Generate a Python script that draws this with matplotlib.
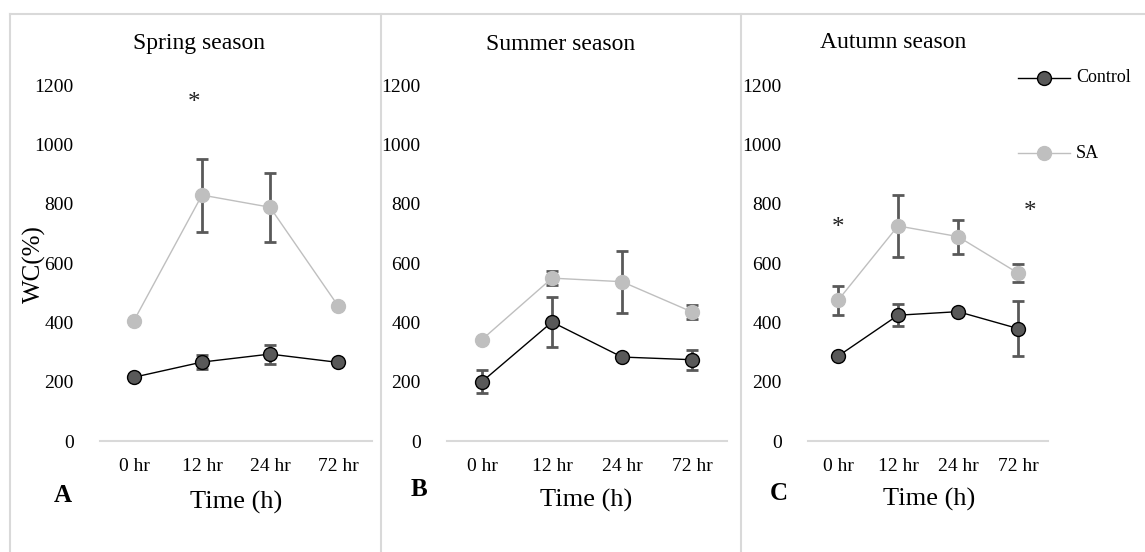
import matplotlib.pyplot as plt
from matplotlib.lines import Line2D

plt.rcParams['font.family'] = ['Liberation Serif', 'DejaVu Serif']

# data
times = ['0 hr', '12 hr', '24 hr', '72 hr']
titles = ['Spring season', 'Summer season', 'Autumn season']
letters = ['A', 'B', 'C']

ctrl_spring = [215, 266, 293, 265]
ctrl_spring_err = [5, 24, 32, 6]
sa_spring = [406, 829, 788, 456]
sa_spring_err = [5, 123, 117, 8]

ctrl_summer = [200, 401, 283, 274]
ctrl_summer_err = [38, 85, 8, 34]
sa_summer = [342, 549, 537, 435]
sa_summer_err = [5, 24, 104, 25]

ctrl_autumn = [286, 424, 436, 379]
ctrl_autumn_err = [5, 37, 5, 94]
sa_autumn = [474, 725, 689, 566]
sa_autumn_err = [48, 104, 57, 29]

# significance stars: (x position, y value)
stars_spring = [(0.88, 1140)]
stars_summer = []
stars_autumn = [(0.0, 718), (3.2, 772)]

W, H = 1145, 552
fig = plt.figure(figsize=(W / 100, H / 100), dpi=100)

def fx(px):
    return px / W

def fy(py):
    return 1 - py / H

# axes boxes in pixels: left, right
boxes = [(100, 372), (447, 727), (808, 1048)]
top_px, bot_px = 85, 441

panels = [
    (ctrl_spring, ctrl_spring_err, sa_spring, sa_spring_err, stars_spring),
    (ctrl_summer, ctrl_summer_err, sa_summer, sa_summer_err, stars_summer),
    (ctrl_autumn, ctrl_autumn_err, sa_autumn, sa_autumn_err, stars_autumn),
]

title_pos = [(199, 43), (561, 44), (893, 42)]
xlabel_pos = [(236, 502), (586, 500), (929, 499)]
letter_pos = [(63, 496), (419, 490), (779, 493)]

x = list(range(len(times)))
grey_line = '#d9d9d9'
dark = '#595959'
light = '#bfbfbf'

for i, (c, ce, s, se, stars) in enumerate(panels):
    l, r = boxes[i]
    ax = fig.add_axes([fx(l), fy(bot_px), fx(r - l), (bot_px - top_px) / H])
    ax.set_xlim(-0.5, 3.5)
    ax.set_ylim(0, 1200)
    for sp in ['top', 'right', 'left']:
        ax.spines[sp].set_visible(False)
    ax.spines['bottom'].set_color(grey_line)
    ax.spines['bottom'].set_linewidth(1.5)
    ax.set_yticks(range(0, 1201, 200))
    ax.set_xticks(x)
    ax.set_xticklabels(times)
    ax.tick_params(axis='both', length=0, labelsize=14)
    ax.tick_params(axis='y', pad=19)
    ax.tick_params(axis='x', pad=12)
    ax.patch.set_alpha(0)

    ax.errorbar(x, c, yerr=ce, fmt='none', ecolor=dark, elinewidth=2,
                capsize=4.5, capthick=2, zorder=2)
    ax.errorbar(x, s, yerr=se, fmt='none', ecolor=dark, elinewidth=2,
                capsize=4.5, capthick=2, zorder=2)
    ax.plot(x, s, color=light, lw=1, marker='o', markersize=10,
            markerfacecolor=light, markeredgecolor=light, zorder=3, label='SA')
    ax.plot(x, c, color='black', lw=1, marker='o', markersize=10,
            markerfacecolor=dark, markeredgecolor='black', markeredgewidth=1,
            zorder=4, label='Control')

    for sx, sy in stars:
        ax.text(sx, sy, '*', fontsize=18, ha='center', va='center', color='#222222')

    fig.text(fx(title_pos[i][0]), fy(title_pos[i][1]), titles[i], fontsize=17,
             ha='center', va='center')
    fig.text(fx(xlabel_pos[i][0]), fy(xlabel_pos[i][1]), 'Time (h)', fontsize=19,
             ha='center', va='center')
    fig.text(fx(letter_pos[i][0]), fy(letter_pos[i][1]), letters[i], fontsize=18,
             fontweight='bold', ha='center', va='center')

fig.text(fx(34), fy(264), 'WC(%)', fontsize=18, rotation=90, ha='center', va='center')

# legend (drawn by hand like the Excel one)
leg_items = [('Control', 78, 'black', dark, 'black'), ('SA', 153, light, light, light)]
for name, py, lc, fc, ec in leg_items:
    fig.add_artist(Line2D([fx(1018), fx(1070)], [fy(py), fy(py)], color=lc, lw=1))
    fig.add_artist(Line2D([fx(1044)], [fy(py)], marker='o', markersize=10,
                          markerfacecolor=fc, markeredgecolor=ec, lw=0))
    fig.text(fx(1076), fy(py), name, fontsize=13, ha='left', va='center')

# panel borders
fig.add_artist(Line2D([fx(10), fx(1145)], [fy(14), fy(14)], color=grey_line, lw=1.5))
for bx in [10, 381, 741]:
    fig.add_artist(Line2D([fx(bx), fx(bx)], [fy(14), fy(552)], color=grey_line, lw=1.5))

fig.savefig('out.png', dpi=100)
